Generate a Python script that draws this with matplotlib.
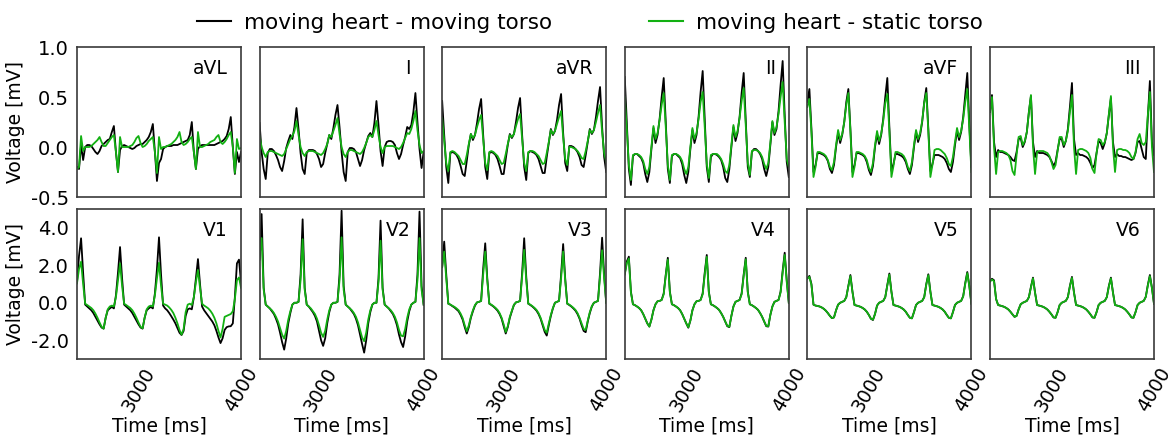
"""Twelve-lead ECG comparison: moving vs static torso."""

import matplotlib
matplotlib.use("Agg")
import matplotlib.pyplot as plt
from matplotlib.lines import Line2D
from matplotlib.ticker import FormatStrFormatter

plt.rcParams["font.family"] = ["DejaVu Sans"]
plt.rcParams["axes.unicode_minus"] = False

# sample grid of the traces, 20 ms steps
TIME_MS = list(range(2400, 4001, 20))

LIMB_LEADS = ["aVL", "I", "aVR", "II", "aVF", "III"]
CHEST_LEADS = ["V1", "V2", "V3", "V4", "V5", "V6"]

# ---- limb leads [mV] ----
AVL_MOVING = [
    -0.20, -0.22, 0.02, -0.13, 0.00, 0.02, 0.02, 0.01, -0.02, -0.05, -0.07, -0.04, 0.01, 0.03, 0.05, 0.07, 0.08, 0.15, 0.21, -0.05,
    -0.25, -0.03, 0.01, 0.02, 0.01, 0.00, -0.01, -0.02, -0.01, 0.01, 0.02, 0.03, 0.03, 0.05, 0.07, 0.10, 0.15, 0.23, -0.05,
    -0.34, -0.16, -0.12, -0.02, 0.00, 0.01, 0.01, 0.01, 0.02, 0.02, 0.02, 0.03, 0.04, 0.05, 0.06, 0.07, 0.12, 0.25, -0.05,
    -0.22, -0.02, 0.01, 0.02, 0.02, 0.02, 0.02, 0.02, 0.02, 0.02, 0.03, 0.04, 0.05, 0.06, 0.08, 0.11, 0.18, 0.30, 0.00,
    -0.27, -0.05, -0.15, -0.05,
]
AVL_STATIC = [
    -0.22, -0.20, 0.11, -0.04, 0.00, 0.00, 0.00, 0.01, 0.03, 0.05, 0.07, 0.10, 0.05, 0.01, 0.01, 0.04, 0.07, 0.10, 0.12, -0.05,
    -0.25, 0.10, 0.00, 0.00, 0.00, 0.00, 0.01, 0.02, 0.05, 0.09, 0.11, 0.04, 0.00, 0.01, 0.03, 0.06, 0.08, 0.10, -0.05,
    -0.26, 0.10, -0.02, 0.00, 0.00, 0.01, 0.02, 0.03, 0.05, 0.07, 0.10, 0.15, 0.05, 0.02, 0.03, 0.05, 0.08, 0.10, -0.05,
    -0.22, 0.15, 0.00, 0.00, 0.01, 0.02, 0.03, 0.05, 0.06, 0.07, 0.10, 0.12, 0.05, 0.03, 0.05, 0.08, 0.12, 0.15, 0.00,
    -0.26, 0.08, -0.02, -0.01,
]
I_MOVING = [
    0.24, -0.05, -0.22, -0.32, -0.06, -0.02, -0.02, -0.04, -0.08, -0.13, -0.20, -0.24, -0.14, -0.01, 0.06, 0.12, 0.08, 0.20,
    0.39, 0.18, -0.06, -0.22, -0.27, -0.06, -0.03, -0.03, -0.03, -0.04, -0.07, -0.12, -0.20, -0.17, -0.06, 0.03, 0.12, 0.08, 0.19, 0.32,
    0.42, 0.20, -0.05, -0.25, -0.34, -0.05, -0.01, -0.01, -0.02, -0.05, -0.12, -0.19, -0.13, -0.03, 0.04, 0.11, 0.14, 0.10, 0.24,
    0.46, 0.22, -0.04, -0.19, 0.00, 0.05, 0.06, 0.06, 0.05, 0.02, -0.06, -0.12, -0.07, 0.02, 0.10, 0.20, 0.18, 0.22, 0.35,
    0.54, 0.25, -0.02, -0.21, -0.05,
]
I_STATIC = [
    0.11, 0.00, -0.06, -0.10, -0.05, -0.04, -0.04, -0.05, -0.06, -0.07, -0.08, -0.09, -0.07, -0.02, 0.03, 0.08, 0.11, 0.16,
    0.26, 0.12, 0.00, -0.06, -0.09, -0.05, -0.04, -0.04, -0.04, -0.05, -0.06, -0.07, -0.08, -0.06, -0.02, 0.03, 0.12, 0.10, 0.16, 0.22,
    0.29, 0.13, 0.00, -0.07, -0.10, -0.05, -0.03, -0.03, -0.04, -0.05, -0.06, -0.07, -0.05, -0.01, 0.04, 0.10, 0.12, 0.10, 0.17,
    0.26, 0.12, 0.00, -0.06, 0.00, 0.01, 0.01, 0.01, 0.01, 0.00, -0.01, -0.02, 0.00, 0.04, 0.09, 0.14, 0.13, 0.18, 0.26,
    0.36, 0.17, 0.02, -0.06, -0.04,
]
AVR_MOVING = [
    0.46, 0.12, -0.20, -0.36, -0.06, -0.05, -0.06, -0.08, -0.12, -0.19, -0.27, -0.29, -0.14, 0.02, 0.13, 0.07, 0.12, 0.24, 0.38,
    0.48, 0.12, -0.20, -0.32, -0.06, -0.05, -0.06, -0.08, -0.12, -0.19, -0.27, -0.27, -0.12, 0.02, 0.13, 0.09, 0.13, 0.25, 0.39,
    0.49, 0.12, -0.20, -0.33, -0.06, -0.04, -0.05, -0.06, -0.08, -0.12, -0.19, -0.26, -0.26, -0.10, 0.04, 0.18, 0.12, 0.16, 0.27, 0.42,
    0.53, 0.14, -0.16, -0.24, 0.01, 0.01, 0.00, -0.02, -0.05, -0.10, -0.18, -0.20, -0.08, 0.05, 0.18, 0.13, 0.17, 0.30, 0.46,
    0.60, 0.20, -0.10, -0.25,
]
AVR_STATIC = [
    0.29, 0.06, -0.16, -0.24, -0.05, -0.04, -0.05, -0.07, -0.09, -0.13, -0.17, -0.17, -0.08, 0.03, 0.13, 0.09, 0.12, 0.20, 0.27,
    0.32, 0.08, -0.16, -0.23, -0.05, -0.04, -0.05, -0.07, -0.09, -0.13, -0.17, -0.16, -0.07, 0.03, 0.12, 0.10, 0.13, 0.21, 0.28,
    0.33, 0.08, -0.16, -0.24, -0.05, -0.04, -0.04, -0.05, -0.07, -0.09, -0.13, -0.17, -0.16, -0.06, 0.05, 0.17, 0.13, 0.16, 0.23, 0.30,
    0.36, 0.10, -0.12, -0.18, 0.00, 0.00, -0.01, -0.02, -0.04, -0.07, -0.11, -0.12, -0.04, 0.06, 0.17, 0.14, 0.17, 0.25, 0.34,
    0.42, 0.15, -0.06, -0.15,
]
II_MOVING = [
    0.70, 0.25, -0.22, -0.38, -0.09, -0.07, -0.07, -0.09, -0.11, -0.16, -0.27, -0.35, -0.25, -0.02, 0.19, 0.04, 0.12, 0.28, 0.50,
    0.69, 0.25, -0.22, -0.36, -0.09, -0.07, -0.07, -0.09, -0.11, -0.17, -0.28, -0.36, -0.25, -0.02, 0.17, 0.04, 0.12, 0.30, 0.55,
    0.76, 0.28, -0.20, -0.35, -0.10, -0.07, -0.07, -0.08, -0.10, -0.13, -0.20, -0.31, -0.35, -0.22, 0.00, 0.20, 0.06, 0.14, 0.30, 0.54,
    0.74, 0.27, -0.20, -0.30, -0.05, -0.02, -0.02, -0.04, -0.07, -0.12, -0.22, -0.29, -0.20, 0.02, 0.25, 0.12, 0.18, 0.36, 0.62,
    0.86, 0.32, -0.15, -0.30,
]
II_STATIC = [
    0.50, 0.18, -0.18, -0.33, -0.08, -0.07, -0.07, -0.08, -0.10, -0.14, -0.22, -0.27, -0.20, 0.00, 0.21, 0.08, 0.14, 0.27, 0.42,
    0.54, 0.20, -0.18, -0.33, -0.08, -0.07, -0.07, -0.08, -0.10, -0.14, -0.22, -0.27, -0.20, 0.00, 0.19, 0.08, 0.14, 0.28, 0.45,
    0.55, 0.20, -0.17, -0.31, -0.08, -0.07, -0.07, -0.07, -0.09, -0.12, -0.17, -0.24, -0.26, -0.18, 0.02, 0.22, 0.10, 0.16, 0.29, 0.46,
    0.59, 0.22, -0.16, -0.28, -0.04, -0.03, -0.03, -0.04, -0.06, -0.10, -0.17, -0.22, -0.16, 0.04, 0.26, 0.14, 0.20, 0.33, 0.50,
    0.65, 0.25, -0.12, -0.20,
]
AVF_MOVING = [
    0.45,
    0.58, 0.18, -0.25, -0.18, -0.06, -0.06, -0.07, -0.08, -0.10, -0.14, -0.22, -0.26, -0.18, 0.00, 0.14, 0.04, 0.12, 0.25, 0.45,
    0.58, 0.18, -0.25, -0.18, -0.06, -0.06, -0.07, -0.08, -0.10, -0.15, -0.23, -0.28, -0.19, 0.00, 0.13, 0.03, 0.12, 0.28, 0.50,
    0.69, 0.20, -0.24, -0.17, -0.07, -0.07, -0.08, -0.09, -0.11, -0.15, -0.22, -0.27, -0.18, 0.00, 0.15, 0.05, 0.12, 0.25, 0.45,
    0.59, 0.18, -0.24, -0.17, -0.08, -0.08, -0.08, -0.09, -0.10, -0.12, -0.16, -0.22, -0.25, -0.15, 0.02, 0.16, 0.07, 0.15, 0.30, 0.52,
    0.74, 0.22, -0.20,
]
AVF_STATIC = [
    0.40,
    0.48, 0.15, -0.30, -0.20, -0.05, -0.05, -0.06, -0.07, -0.09, -0.13, -0.20, -0.23, -0.15, 0.02, 0.17, 0.07, 0.13, 0.25, 0.42,
    0.54, 0.16, -0.30, -0.20, -0.05, -0.05, -0.06, -0.07, -0.09, -0.13, -0.21, -0.25, -0.16, 0.02, 0.16, 0.06, 0.13, 0.26, 0.44,
    0.53, 0.16, -0.30, -0.19, -0.05, -0.05, -0.06, -0.07, -0.09, -0.13, -0.20, -0.24, -0.15, 0.02, 0.17, 0.08, 0.14, 0.26, 0.44,
    0.54, 0.16, -0.30, -0.18, -0.03, -0.02, -0.02, -0.03, -0.05, -0.07, -0.11, -0.17, -0.19, -0.10, 0.05, 0.19, 0.10, 0.16, 0.28, 0.45,
    0.58, 0.18, -0.25,
]
III_MOVING = [
    0.35,
    0.52, 0.05, -0.10, -0.03, -0.05, -0.05, -0.06, -0.07, -0.08, -0.10, -0.13, -0.14, -0.05, 0.08, 0.09, 0.00, 0.05, 0.15, 0.35,
    0.51, 0.05, -0.10, -0.04, -0.06, -0.06, -0.06, -0.07, -0.08, -0.10, -0.14, -0.19, -0.15, -0.03, 0.08, 0.08, 0.00, 0.06, 0.18, 0.40,
    0.64, 0.08, -0.08, -0.06, -0.08, -0.08, -0.09, -0.10, -0.12, -0.16, -0.21, -0.18, -0.06, 0.06, 0.04, -0.02, 0.04, 0.14, 0.32,
    0.49, 0.05, -0.10, -0.07, -0.09, -0.09, -0.10, -0.10, -0.11, -0.12, -0.13, -0.12, -0.06, 0.05, 0.06, -0.02, -0.10, -0.12, 0.30,
    0.66, 0.05, -0.08,
]
III_STATIC = [
    0.35,
    0.50, 0.00, -0.27, -0.05, -0.04, -0.04, -0.05, -0.06, -0.08, -0.13, -0.24, -0.28, -0.08, 0.10, 0.11, 0.02, 0.06, 0.15, 0.35,
    0.52, 0.00, -0.27, -0.05, -0.04, -0.04, -0.04, -0.05, -0.06, -0.09, -0.15, -0.22, -0.18, -0.04, 0.10, 0.10, 0.02, 0.06, 0.16, 0.35,
    0.52, 0.00, -0.27, -0.03, -0.02, -0.02, -0.03, -0.04, -0.06, -0.11, -0.22, -0.26, -0.06, 0.08, 0.07, 0.02, 0.05, 0.14, 0.33,
    0.51, 0.00, -0.25, -0.03, -0.02, -0.02, -0.03, -0.03, -0.04, -0.06, -0.10, -0.12, -0.05, 0.08, 0.13, 0.04, 0.02, 0.05, 0.32,
    0.55, 0.00, -0.25,
]

# ---- chest leads [mV] ----
V1_MOVING = [
    1.10, 2.50,
    3.44, 1.60, -0.10, -0.20, -0.30, -0.40, -0.55, -0.75, -0.95, -1.15, -1.32, -1.38, -0.80, -0.40, -0.30, -0.22, -0.30, 0.40, 1.60,
    2.97, 1.30, -0.10, -0.20, -0.30, -0.40, -0.55, -0.75, -0.95, -1.15, -1.32, -1.38, -0.80, -0.40, -0.30, -0.22, -0.30, 0.50, 1.80,
    3.49, 1.50, -0.15, -0.30, -0.40, -0.55, -0.72, -0.90, -1.10, -1.35, -1.60, -1.72, -1.50, -0.70, -0.35, -0.30, -0.35, 0.30, 1.30,
    2.33, 1.00, -0.20, -0.40, -0.55, -0.70, -0.85, -1.00, -1.20, -1.50, -1.85, -2.15, -1.90, -1.45, -1.30, -1.26, -1.25, -1.10, 0.30,
    2.10, 2.30, 1.10,
]
V1_STATIC = [
    1.03, 1.80,
    2.19, 1.00, -0.05, -0.12, -0.20, -0.28, -0.40, -0.58, -0.80, -1.05, -1.28, -1.38, -0.80, -0.35, -0.20, -0.15, -0.20, 0.30, 1.20,
    2.10, 0.90, -0.05, -0.12, -0.20, -0.28, -0.40, -0.58, -0.80, -1.05, -1.28, -1.36, -0.80, -0.35, -0.20, -0.15, -0.20, 0.40, 1.30,
    2.14, 0.90, -0.05, -0.10, -0.15, -0.25, -0.38, -0.55, -0.80, -1.10, -1.45, -1.70, -1.40, -0.50, -0.10, -0.05, -0.12, 0.30, 1.10,
    1.75, 0.80, -0.05, -0.15, -0.22, -0.30, -0.42, -0.58, -0.80, -1.10, -1.50, -1.85, -1.40, -0.75, -0.70, -0.65, -0.60, -0.45, 0.20,
    1.20, 1.35, 0.80,
]
V2_MOVING = [
    2.30,
    4.73, 0.80, -0.10, -0.20, -0.30, -0.45, -0.60, -0.85, -1.15, -1.60, -2.10, -2.50, -1.90, -1.10, -0.55, -0.10, 0.00, 0.00, 0.05, 1.50,
    4.45, 0.80, -0.10, -0.20, -0.35, -0.50, -0.70, -1.00, -1.50, -2.00, -2.30, -1.90, -1.10, -0.50, -0.10, 0.00, 0.00, 0.05, 1.50,
    4.91, 0.90, -0.10, -0.20, -0.30, -0.45, -0.60, -0.85, -1.20, -1.70, -2.20, -2.66, -2.00, -1.10, -0.50, -0.10, 0.00, 0.00, 1.30,
    4.38, 0.80, -0.10, -0.20, -0.30, -0.45, -0.60, -0.85, -1.20, -1.70, -2.10, -2.36, -1.80, -1.00, -0.45, -0.10, 0.00, 0.05, 1.50,
    4.86, 0.90, -0.10,
]
V2_STATIC = [
    2.50,
    3.45, 0.70, -0.10, -0.20, -0.30, -0.40, -0.55, -0.75, -1.00, -1.35, -1.70, -1.91, -1.50, -0.90, -0.45, -0.10, 0.00, 0.00, 0.05, 1.20,
    3.39, 0.70, -0.10, -0.20, -0.30, -0.45, -0.60, -0.85, -1.20, -1.60, -1.82, -1.50, -0.90, -0.40, -0.10, 0.00, 0.00, 0.05, 1.20,
    3.49, 0.70, -0.10, -0.20, -0.30, -0.40, -0.55, -0.75, -1.05, -1.45, -1.85, -2.05, -1.60, -0.90, -0.40, -0.10, 0.00, 0.00, 1.10,
    3.31, 0.70, -0.10, -0.20, -0.30, -0.40, -0.55, -0.75, -1.05, -1.45, -1.75, -1.79, -1.40, -0.80, -0.35, -0.10, 0.00, 0.05, 1.20,
    3.45, 0.70, -0.10,
]
V3_MOVING = [
    1.90,
    3.26, 1.50, -0.05, -0.10, -0.18, -0.25, -0.35, -0.45, -0.65, -0.90, -1.30, -1.64, -1.30, -0.80, -0.45, -0.15, 0.02, 0.05, 0.10, 1.80,
    3.17, 1.30, -0.05, -0.12, -0.20, -0.30, -0.42, -0.60, -0.85, -1.25, -1.64, -1.30, -0.80, -0.45, -0.12, 0.02, 0.05, 0.10, 1.60,
    3.44, 1.40, -0.05, -0.12, -0.20, -0.30, -0.42, -0.60, -0.85, -1.20, -1.55, -1.75, -1.20, -0.70, -0.30, 0.00, 0.05, 0.10, 1.50,
    3.13, 1.30, -0.05, -0.12, -0.20, -0.30, -0.42, -0.60, -0.85, -1.20, -1.50, -1.57, -1.00, -0.55, -0.20, 0.00, 0.05, 0.10, 1.60,
    3.47, 1.50, 0.00,
]
V3_STATIC = [
    1.90,
    2.73, 1.30, -0.05, -0.10, -0.16, -0.22, -0.30, -0.40, -0.58, -0.82, -1.20, -1.52, -1.20, -0.75, -0.40, -0.12, 0.02, 0.05, 0.10, 1.50,
    2.73, 1.20, -0.05, -0.10, -0.18, -0.27, -0.38, -0.55, -0.80, -1.15, -1.56, -1.25, -0.75, -0.42, -0.10, 0.02, 0.05, 0.10, 1.40,
    2.82, 1.20, -0.05, -0.10, -0.18, -0.27, -0.38, -0.55, -0.80, -1.12, -1.45, -1.60, -1.10, -0.65, -0.28, 0.00, 0.05, 0.10, 1.30,
    2.73, 1.20, -0.05, -0.10, -0.18, -0.27, -0.38, -0.55, -0.80, -1.10, -1.40, -1.45, -0.95, -0.50, -0.18, 0.00, 0.05, 0.10, 1.40,
    2.80, 1.30, 0.00,
]
V4_MOVING = [
    1.55, 2.20,
    2.46, 0.60, -0.08, -0.13, -0.20, -0.28, -0.40, -0.60, -0.85, -1.10, -1.27, -0.90, -0.40, -0.08, 0.08, 0.10, 0.15, 0.50, 1.50,
    2.40, 0.60, -0.08, -0.13, -0.20, -0.28, -0.40, -0.60, -0.85, -1.10, -1.33, -0.95, -0.40, -0.08, 0.08, 0.10, 0.15, 0.50, 1.60,
    2.55, 0.60, -0.08, -0.13, -0.20, -0.28, -0.38, -0.55, -0.75, -1.00, -1.25, -1.30, -0.70, -0.20, 0.05, 0.10, 0.15, 0.50, 1.50,
    2.40, 0.60, -0.08, -0.13, -0.20, -0.28, -0.38, -0.55, -0.75, -1.00, -1.25, -1.27, -0.65, -0.20, 0.05, 0.10, 0.15, 0.60, 1.70,
    2.67, 1.20, 0.00,
]
V4_STATIC = [
    1.50, 2.10,
    2.36, 0.55, -0.08, -0.13, -0.20, -0.28, -0.40, -0.60, -0.85, -1.10, -1.27, -0.90, -0.40, -0.08, 0.08, 0.10, 0.15, 0.45, 1.45,
    2.30, 0.55, -0.08, -0.13, -0.20, -0.28, -0.40, -0.60, -0.85, -1.10, -1.30, -0.95, -0.40, -0.08, 0.08, 0.10, 0.15, 0.45, 1.50,
    2.45, 0.55, -0.08, -0.13, -0.20, -0.28, -0.38, -0.55, -0.75, -1.00, -1.23, -1.28, -0.70, -0.20, 0.05, 0.10, 0.15, 0.45, 1.45,
    2.32, 0.55, -0.08, -0.13, -0.20, -0.28, -0.38, -0.55, -0.75, -1.00, -1.23, -1.25, -0.65, -0.20, 0.05, 0.10, 0.15, 0.55, 1.60,
    2.55, 1.10, 0.00,
]
V5_MOVING = [
    1.30, 1.43, 1.00, -0.10, -0.15, -0.17, -0.20, -0.25, -0.32, -0.42, -0.55, -0.70, -0.82, -0.78, -0.40, -0.10, 0.00, 0.05, 0.10, 0.30, 0.90,
    1.48, 0.60, -0.12, -0.15, -0.18, -0.22, -0.28, -0.36, -0.48, -0.65, -0.85, -0.92, -0.60, -0.15, 0.00, 0.05, 0.10, 0.30, 0.95,
    1.56, 0.60, -0.12, -0.15, -0.18, -0.22, -0.28, -0.36, -0.48, -0.65, -0.80, -0.83, -0.50, -0.12, 0.00, 0.05, 0.10, 0.30, 1.00,
    1.52, 0.60, -0.12, -0.15, -0.18, -0.22, -0.28, -0.36, -0.48, -0.65, -0.80, -0.83, -0.50, -0.12, 0.00, 0.05, 0.10, 0.35, 1.05,
    1.64, 0.90, -0.05,
]
V5_STATIC = [
    1.28, 1.38, 0.95, -0.10, -0.15, -0.17, -0.20, -0.25, -0.32, -0.42, -0.55, -0.70, -0.82, -0.78, -0.40, -0.10, 0.00, 0.05, 0.10, 0.30, 0.88,
    1.42, 0.58, -0.12, -0.15, -0.18, -0.22, -0.28, -0.36, -0.48, -0.65, -0.85, -0.90, -0.60, -0.15, 0.00, 0.05, 0.10, 0.30, 0.92,
    1.50, 0.58, -0.12, -0.15, -0.18, -0.22, -0.28, -0.36, -0.48, -0.65, -0.80, -0.83, -0.50, -0.12, 0.00, 0.05, 0.10, 0.30, 0.97,
    1.47, 0.58, -0.12, -0.15, -0.18, -0.22, -0.28, -0.36, -0.48, -0.65, -0.80, -0.83, -0.50, -0.12, 0.00, 0.05, 0.10, 0.34, 1.00,
    1.58, 0.88, -0.05,
]
V6_MOVING = [
    1.15, 1.28, 1.20, 0.20, -0.12, -0.15, -0.18, -0.22, -0.28, -0.36, -0.48, -0.62, -0.75, -0.70, -0.35, -0.08, 0.00, 0.05, 0.10, 0.30, 0.85,
    1.34, 0.55, -0.12, -0.15, -0.18, -0.22, -0.28, -0.36, -0.48, -0.62, -0.78, -0.80, -0.50, -0.12, 0.00, 0.05, 0.10, 0.30, 0.90,
    1.38, 0.55, -0.12, -0.15, -0.18, -0.22, -0.28, -0.36, -0.48, -0.62, -0.78, -0.80, -0.50, -0.12, 0.00, 0.05, 0.10, 0.30, 0.90,
    1.34, 0.55, -0.12, -0.15, -0.18, -0.22, -0.28, -0.36, -0.48, -0.62, -0.78, -0.80, -0.50, -0.12, 0.00, 0.05, 0.10, 0.32, 0.95,
    1.48, 0.80, -0.05,
]
V6_STATIC = [
    1.12, 1.24, 1.15, 0.20, -0.12, -0.15, -0.18, -0.22, -0.28, -0.36, -0.48, -0.62, -0.75, -0.70, -0.35, -0.08, 0.00, 0.05, 0.10, 0.30, 0.82,
    1.30, 0.53, -0.12, -0.15, -0.18, -0.22, -0.28, -0.36, -0.48, -0.62, -0.78, -0.80, -0.50, -0.12, 0.00, 0.05, 0.10, 0.30, 0.87,
    1.33, 0.53, -0.12, -0.15, -0.18, -0.22, -0.28, -0.36, -0.48, -0.62, -0.78, -0.80, -0.50, -0.12, 0.00, 0.05, 0.10, 0.30, 0.87,
    1.30, 0.53, -0.12, -0.15, -0.18, -0.22, -0.28, -0.36, -0.48, -0.62, -0.78, -0.80, -0.50, -0.12, 0.00, 0.05, 0.10, 0.31, 0.92,
    1.42, 0.78, -0.05,
]

MOVING_TORSO = {
    "aVL": AVL_MOVING, "I": I_MOVING, "aVR": AVR_MOVING, "II": II_MOVING, "aVF": AVF_MOVING, "III": III_MOVING,
    "V1": V1_MOVING, "V2": V2_MOVING, "V3": V3_MOVING, "V4": V4_MOVING, "V5": V5_MOVING, "V6": V6_MOVING,
}
STATIC_TORSO = {
    "aVL": AVL_STATIC, "I": I_STATIC, "aVR": AVR_STATIC, "II": II_STATIC, "aVF": AVF_STATIC, "III": III_STATIC,
    "V1": V1_STATIC, "V2": V2_STATIC, "V3": V3_STATIC, "V4": V4_STATIC, "V5": V5_STATIC, "V6": V6_STATIC,
}

ROW_YLIM = [(-0.5, 1.0), (-3.0, 5.0)]
ROW_YTICKS = [[-0.5, 0.0, 0.5, 1.0], [-2.0, 0.0, 2.0, 4.0]]
XTICKS = [3000, 4000]

BLACK = "#000000"
GREEN = "#12b012"
SPINE = "#3a3a3a"


def main() -> None:
    fig, axes = plt.subplots(2, 6, figsize=(11.68, 4.41), dpi=100, sharex=True, sharey="row")
    fig.subplots_adjust(left=0.0659, right=0.988, top=0.8934, bottom=0.1859, wspace=0.113, hspace=0.08)

    for row, leads in enumerate([LIMB_LEADS, CHEST_LEADS]):
        for col, lead in enumerate(leads):
            ax = axes[row, col]
            ax.plot(TIME_MS, MOVING_TORSO[lead], color=BLACK, lw=1.3)
            ax.plot(TIME_MS, STATIC_TORSO[lead], color=GREEN, lw=1.3)
            ax.text(0.92, 0.86, lead, transform=ax.transAxes, ha="right", va="center", fontsize=13.5)

            ax.set_xlim(2400, 4000)
            ax.set_ylim(*ROW_YLIM[row])
            ax.set_yticks(ROW_YTICKS[row])
            ax.yaxis.set_major_formatter(FormatStrFormatter("%.1f"))
            ax.set_xticks(XTICKS)
            ax.tick_params(axis="y", length=0, labelsize=14, pad=6)
            ax.tick_params(axis="x", length=0, labelsize=13.5, pad=4)
            for spine in ax.spines.values():
                spine.set_color(SPINE)
                spine.set_linewidth(1.2)

            if col == 0:
                ax.set_ylabel("Voltage [mV]", fontsize=13.5)
            if row == 1:
                ax.set_xlabel("Time [ms]", fontsize=13.5, labelpad=1)
                plt.setp(ax.get_xticklabels(), rotation=60)

    handles = [Line2D([], [], color=BLACK, lw=1.5), Line2D([], [], color=GREEN, lw=1.5)]
    fig.legend(handles, ["moving heart - moving torso", "moving heart - static torso"],
               loc="center", bbox_to_anchor=(0.505, 0.948), ncol=2, frameon=False,
               fontsize=15.5, handlelength=1.6, handletextpad=0.6, columnspacing=4.5)

    fig.savefig("out.png", dpi=100)


if __name__ == "__main__":
    main()
